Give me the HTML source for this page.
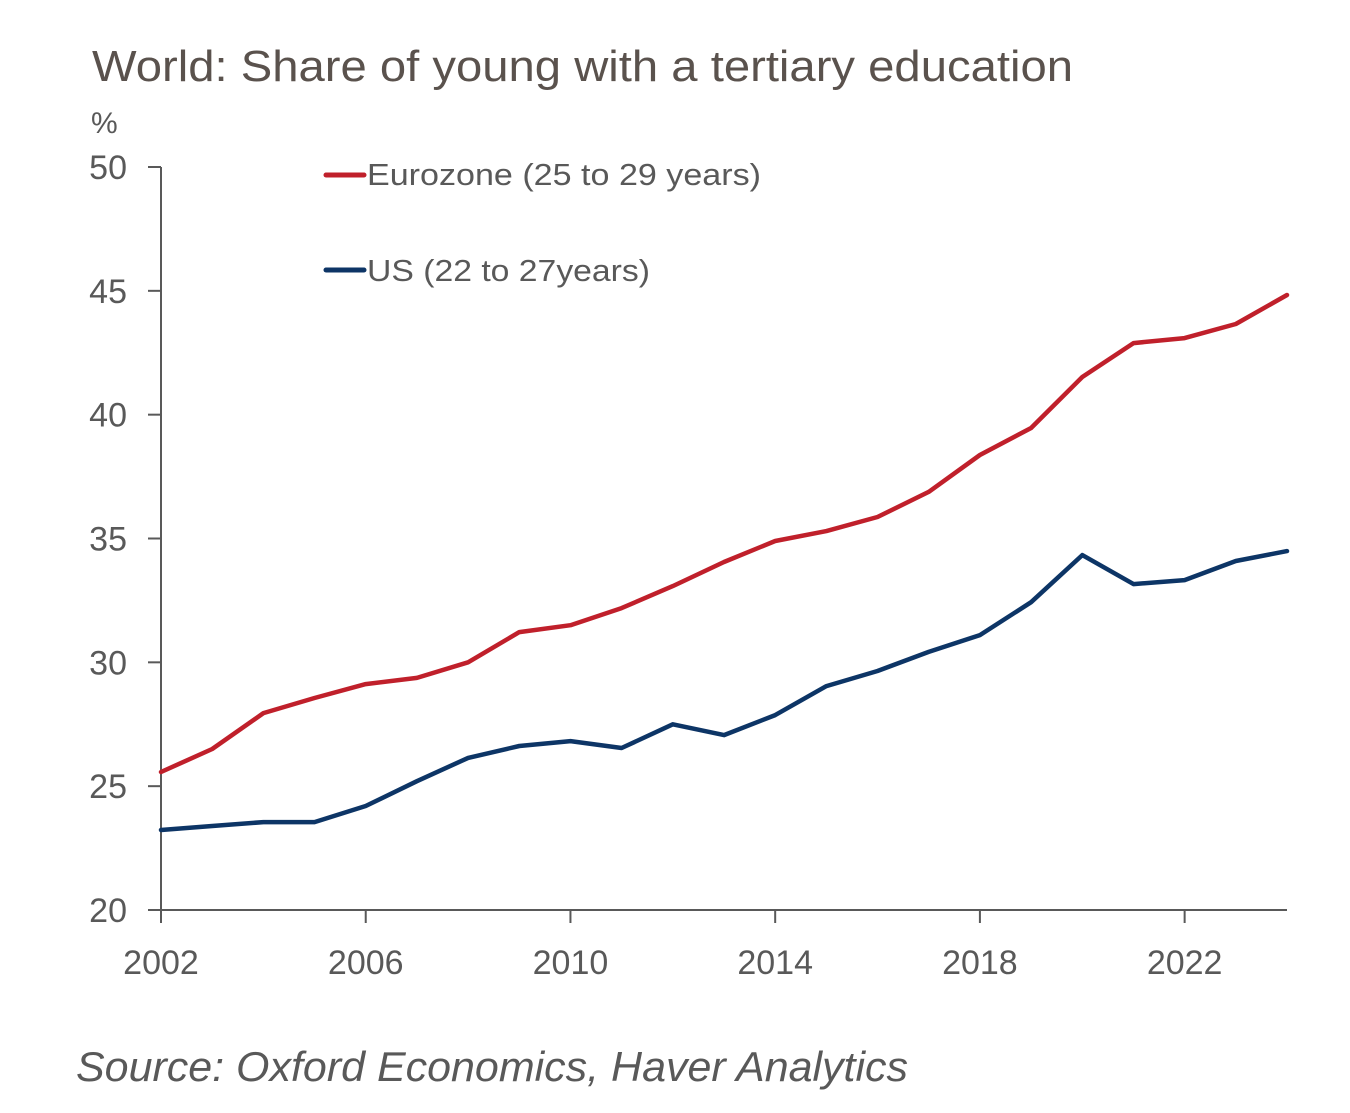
<!DOCTYPE html>
<html><head><meta charset="utf-8"><style>
html,body{margin:0;padding:0;background:#fff;}
svg{display:block;font-family:"Liberation Sans",sans-serif;}
</style></head><body>
<svg id="chart" width="1350" height="1113" viewBox="0 0 1350 1113" xmlns="http://www.w3.org/2000/svg">
<text x="92" y="81" font-size="44" fill="#5a524d" textLength="981" lengthAdjust="spacingAndGlyphs">World: Share of young with a tertiary education</text>
<text x="91" y="133" font-size="30" fill="#595959">%</text>
<g id="axes"></g>
<g id="series"></g>
<g>
<line x1="326" y1="175" x2="364" y2="175" stroke="#c0202b" stroke-width="5" stroke-linecap="round"/>
<text x="367" y="185" font-size="31" fill="#595959" textLength="394" lengthAdjust="spacingAndGlyphs">Eurozone (25 to 29 years)</text>
<line x1="326" y1="270" x2="364" y2="270" stroke="#0d3566" stroke-width="5" stroke-linecap="round"/>
<text x="367" y="281" font-size="31" fill="#595959" textLength="283" lengthAdjust="spacingAndGlyphs">US (22 to 27years)</text>
</g>
<text x="76" y="1081" font-size="42" font-style="italic" fill="#595959" textLength="832" lengthAdjust="spacingAndGlyphs">Source: Oxford Economics, Haver Analytics</text>
</svg>
<script>
const years = [2002,2003,2004,2005,2006,2007,2008,2009,2010,2011,2012,2013,2014,2015,2016,2017,2018,2019,2020,2021,2022,2023,2024];
const eurozone = [25.57,26.5,27.95,28.56,29.12,29.37,30.0,31.22,31.5,32.19,33.08,34.05,34.9,35.3,35.87,36.88,38.37,39.46,41.52,42.89,43.09,43.66,44.83];
const us = [23.23,23.39,23.55,23.55,24.2,25.2,26.14,26.62,26.82,26.54,27.5,27.06,27.87,29.04,29.65,30.42,31.1,32.43,34.33,33.16,33.32,34.09,34.49];
const yTicks = [20,25,30,35,40,45,50];
const xTicks = [2002,2006,2010,2014,2018,2022];

const NS = "http://www.w3.org/2000/svg";
const x0 = 161, x1 = 1287, y0 = 910, y1 = 167;
const xMin = 2002, xMax = 2024, yMin = 20, yMax = 50;
const xs = v => x0 + (v - xMin) / (xMax - xMin) * (x1 - x0);
const ys = v => y0 - (v - yMin) / (yMax - yMin) * (y0 - y1);
function mk(tag, attrs, parent) {
  const e = document.createElementNS(NS, tag);
  for (const k in attrs) e.setAttribute(k, attrs[k]);
  parent.appendChild(e);
  return e;
}
const axes = document.getElementById('axes');
const ax = '#595959';
let l = mk('line', {x1: x0, y1: y1, x2: x0, y2: y0, stroke: ax, 'stroke-width': 2}, axes);


l = mk('line', {x1: x0 - 13, y1: y0, x2: x1, y2: y0, stroke: ax, 'stroke-width': 2}, axes);


yTicks.forEach(v => {
  const t = mk('line', {x1: x0 - 13, y1: ys(v), x2: x0, y2: ys(v), stroke: ax, 'stroke-width': 2}, axes);
  
  
  const tx = mk('text', {x: 127, y: ys(v) + 12, 'font-size': 34, fill: ax, 'text-anchor': 'end'}, axes);
  tx.textContent = v;
  
  
});
xTicks.forEach(v => {
  const t = mk('line', {x1: xs(v), y1: y0, x2: xs(v), y2: y0 + 13, stroke: ax, 'stroke-width': 2}, axes);
  
  
  const tx = mk('text', {x: xs(v), y: 974, 'font-size': 34, fill: ax, 'text-anchor': 'middle'}, axes);
  tx.textContent = v;
  
  
});
const g = document.getElementById('series');
function line(vals, color, name) {
  const d = vals.map((v, i) => (i ? 'L' : 'M') + xs(years[i]).toFixed(1) + ' ' + ys(v).toFixed(1)).join(' ');
  const p = mk('path', {d: d, fill: 'none', stroke: color, 'stroke-width': 4.5, 'stroke-linejoin': 'round', 'stroke-linecap': 'round'}, g);
  
  
}
line(eurozone, '#c0202b', 'eurozone-line');
line(us, '#0d3566', 'us-line');
</script>
</body></html>
